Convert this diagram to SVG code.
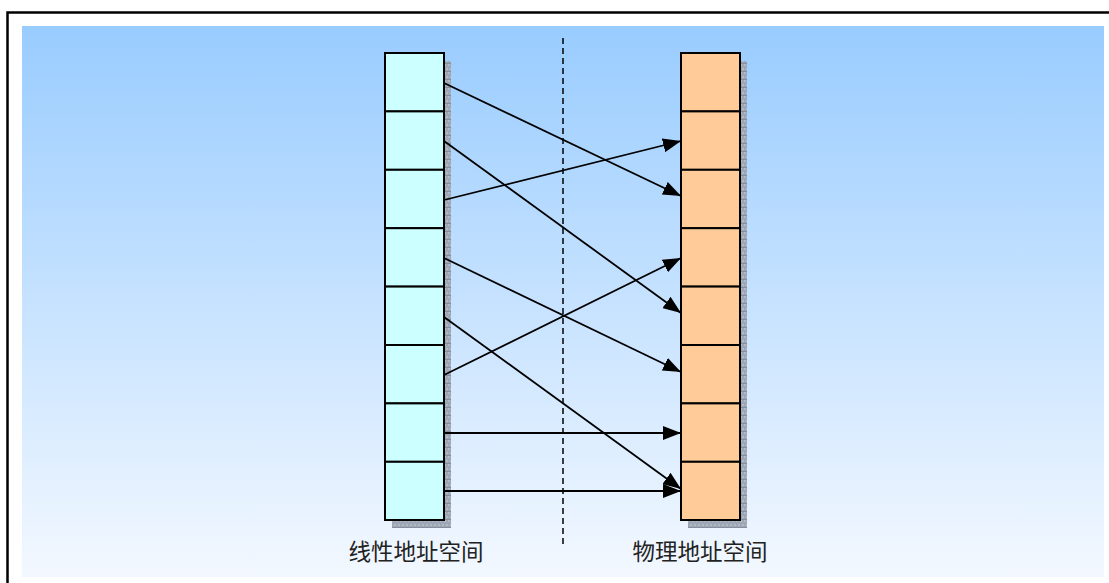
<svg xmlns="http://www.w3.org/2000/svg" width="1109" height="583" viewBox="0 0 1109 583">
<defs>
<linearGradient id="bg" x1="0" y1="0" x2="0" y2="1">
<stop offset="0" stop-color="#99CCFF"/>
<stop offset="1" stop-color="#F3F8FF"/>
</linearGradient>
<pattern id="sh" width="4" height="8" patternUnits="userSpaceOnUse">
<rect width="4" height="8" fill="#9EA7B6"/>
<rect width="2" height="2" fill="#B2B9C6"/>
<rect x="2" y="4" width="2" height="2" fill="#B2B9C6"/>
<rect y="7" width="4" height="1" fill="#868E9C"/>
</pattern>
<marker id="ah" markerWidth="18" markerHeight="14" refX="18" refY="7" orient="auto" markerUnits="userSpaceOnUse">
<path d="M0,0 L18,7 L0,14 Z" fill="#000"/>
</marker>
<style>
.cl{fill:#CCFFFF;stroke:#000;stroke-width:2}
.cr{fill:#FFCC99;stroke:#000;stroke-width:2}
.ln{stroke:#000;stroke-width:1.8;fill:none;marker-end:url(#ah)}
.t{font-family:"Noto Sans CJK SC","Liberation Sans",sans-serif;font-size:22.5px;fill:#222}
</style>
</defs>
<rect x="7.5" y="12.5" width="1110" height="580" fill="#fff" stroke="#000" stroke-width="2.5"/>
<rect x="22" y="26" width="1082" height="551" fill="url(#bg)"/>
<line x1="563" y1="38" x2="563" y2="545" stroke="#000" stroke-width="1.5" stroke-dasharray="6,4"/>
<g id="linear">
<rect x="392" y="61" width="59" height="467" fill="url(#sh)"/>
<rect class="cl" x="385" y="53" width="59" height="58.4"/>
<rect class="cl" x="385" y="111.4" width="59" height="58.4"/>
<rect class="cl" x="385" y="169.8" width="59" height="58.4"/>
<rect class="cl" x="385" y="228.2" width="59" height="58.4"/>
<rect class="cl" x="385" y="286.6" width="59" height="58.4"/>
<rect class="cl" x="385" y="345" width="59" height="58.4"/>
<rect class="cl" x="385" y="403.4" width="59" height="58.4"/>
<rect class="cl" x="385" y="461.8" width="59" height="58.2"/>
</g>
<g id="physical">
<rect x="688" y="61" width="59" height="467" fill="url(#sh)"/>
<rect class="cr" x="681" y="53" width="59" height="58.4"/>
<rect class="cr" x="681" y="111.4" width="59" height="58.4"/>
<rect class="cr" x="681" y="169.8" width="59" height="58.4"/>
<rect class="cr" x="681" y="228.2" width="59" height="58.4"/>
<rect class="cr" x="681" y="286.6" width="59" height="58.4"/>
<rect class="cr" x="681" y="345" width="59" height="58.4"/>
<rect class="cr" x="681" y="403.4" width="59" height="58.4"/>
<rect class="cr" x="681" y="461.8" width="59" height="58.2"/>
</g>
<g id="connectors">
<line class="ln" x1="444" y1="83" x2="681" y2="196"/>
<line class="ln" x1="444" y1="141" x2="681" y2="313"/>
<line class="ln" x1="444" y1="200" x2="681" y2="141"/>
<line class="ln" x1="444" y1="258" x2="681" y2="372"/>
<line class="ln" x1="444" y1="317" x2="681" y2="489"/>
<line class="ln" x1="444" y1="375" x2="681" y2="258"/>
<line class="ln" x1="444" y1="433" x2="681" y2="433"/>
<line class="ln" x1="444" y1="491" x2="681" y2="491"/>
</g>
<text class="t" x="416" y="560" text-anchor="middle">线性地址空间</text>
<text class="t" x="700" y="560" text-anchor="middle">物理地址空间</text>
</svg>
